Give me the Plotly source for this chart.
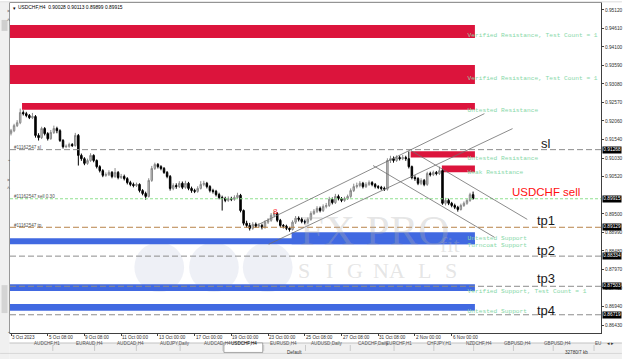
import plotly.graph_objects as go

# ---------------- data ----------------
BAR = list(range(152))
OPEN = [0.9172, 0.9179, 0.9193, 0.9201, 0.9229, 0.9226, 0.9221, 0.9215, 0.9218, 0.9166,
        0.9160, 0.9185, 0.9171, 0.9157, 0.9174, 0.9185, 0.9179, 0.9152, 0.9135, 0.9136,
        0.9141, 0.9138, 0.9166, 0.9111, 0.9102, 0.9089, 0.9097, 0.9111, 0.9097, 0.9080,
        0.9069, 0.9056, 0.9058, 0.9064, 0.9053, 0.9064, 0.9050, 0.9053, 0.9047, 0.9036,
        0.9031, 0.9028, 0.9031, 0.9014, 0.9006, 0.8998, 0.9042, 0.9075, 0.9086, 0.9080,
        0.9075, 0.9064, 0.9053, 0.9020, 0.9028, 0.9025, 0.9034, 0.9023, 0.9034, 0.9020,
        0.9014, 0.9012, 0.9020, 0.9031, 0.9034, 0.9025, 0.9014, 0.9012, 0.9003, 0.8995,
        0.8992, 0.8987, 0.8992, 0.8990, 0.8995, 0.9001, 0.8959, 0.8924, 0.8918, 0.8910,
        0.8921, 0.8916, 0.8918, 0.8913, 0.8927, 0.8932, 0.8946, 0.8951, 0.8932, 0.8918,
        0.8916, 0.8910, 0.8907, 0.8927, 0.8938, 0.8935, 0.8929, 0.8927, 0.8935, 0.8951,
        0.8957, 0.8965, 0.8959, 0.8970, 0.8973, 0.8990, 0.8981, 0.8998, 0.8992, 0.8987,
        0.8992, 0.8998, 0.9014, 0.9025, 0.9028, 0.9034, 0.9025, 0.9031, 0.9036, 0.9031,
        0.9025, 0.9023, 0.9020, 0.9018, 0.9097, 0.9102, 0.9097, 0.9105, 0.9102, 0.9105,
        0.9102, 0.9080, 0.9050, 0.9047, 0.9034, 0.9042, 0.9031, 0.9061, 0.9058, 0.9064,
        0.9061, 0.9069, 0.8979, 0.8987, 0.8979, 0.8973, 0.8968, 0.8962, 0.8973, 0.8979,
        0.8987, 0.90028]
HIGH = [0.9184, 0.9198, 0.9208, 0.9240, 0.9235, 0.9231, 0.9225, 0.9228, 0.9222, 0.9172,
        0.9190, 0.9189, 0.9175, 0.9181, 0.9193, 0.9190, 0.9183, 0.9156, 0.9141, 0.9146,
        0.9145, 0.9173, 0.9170, 0.9116, 0.9106, 0.9102, 0.9117, 0.9114, 0.9100, 0.9084,
        0.9073, 0.9064, 0.9070, 0.9068, 0.9076, 0.9068, 0.9060, 0.9058, 0.9051, 0.9041,
        0.9036, 0.9036, 0.9034, 0.9018, 0.9011, 0.9048, 0.9082, 0.9091, 0.9090, 0.9084,
        0.9079, 0.9068, 0.9057, 0.9034, 0.9034, 0.9040, 0.9039, 0.9041, 0.9038, 0.9025,
        0.9019, 0.9026, 0.9040, 0.9041, 0.9038, 0.9029, 0.9019, 0.9016, 0.9008, 0.9000,
        0.8997, 0.8998, 0.8997, 0.9001, 0.9008, 0.9005, 0.8962, 0.8931, 0.8925, 0.8927,
        0.8926, 0.8924, 0.8923, 0.8932, 0.8938, 0.8952, 0.8958, 0.8955, 0.8936, 0.8922,
        0.8920, 0.8914, 0.8932, 0.8944, 0.8943, 0.8940, 0.8934, 0.8940, 0.8957, 0.8963,
        0.8971, 0.8970, 0.8976, 0.8980, 0.8997, 0.8995, 0.9005, 0.9003, 0.8996, 0.8997,
        0.9003, 0.9020, 0.9033, 0.9036, 0.9040, 0.9038, 0.9037, 0.9042, 0.9040, 0.9035,
        0.9029, 0.9027, 0.9025, 0.9103, 0.9110, 0.9108, 0.9111, 0.9110, 0.9112, 0.9110,
        0.9122, 0.9083, 0.9056, 0.9051, 0.9048, 0.9046, 0.9066, 0.9066, 0.9069, 0.9068,
        0.9080, 0.9073, 0.8994, 0.8992, 0.8983, 0.8978, 0.8972, 0.8978, 0.8984, 0.8992,
        0.9008, 0.90113]
LOW = [0.9166, 0.9175, 0.9189, 0.9197, 0.9221, 0.9216, 0.9211, 0.9211, 0.9160, 0.9152,
       0.9156, 0.9166, 0.9152, 0.9154, 0.9170, 0.9172, 0.9148, 0.9130, 0.9131, 0.9132,
       0.9134, 0.9135, 0.9083, 0.9096, 0.9084, 0.9085, 0.9093, 0.9092, 0.9075, 0.9064,
       0.9051, 0.9052, 0.9054, 0.9048, 0.9049, 0.9045, 0.9046, 0.9042, 0.9031, 0.9026,
       0.9023, 0.9024, 0.9009, 0.9001, 0.8989, 0.8995, 0.9038, 0.9071, 0.9075, 0.9070,
       0.9060, 0.9048, 0.9014, 0.9015, 0.9019, 0.9021, 0.9018, 0.9019, 0.9015, 0.9008,
       0.9007, 0.9008, 0.9017, 0.9026, 0.9020, 0.9009, 0.9006, 0.8998, 0.8990, 0.8959,
       0.8982, 0.8983, 0.8985, 0.8986, 0.8991, 0.8954, 0.8918, 0.8912, 0.8904, 0.8906,
       0.8911, 0.8911, 0.8907, 0.8909, 0.8922, 0.8928, 0.8940, 0.8927, 0.8913, 0.8910,
       0.8905, 0.8901, 0.8904, 0.8922, 0.8929, 0.8924, 0.8921, 0.8922, 0.8931, 0.8947,
       0.8952, 0.8954, 0.8955, 0.8965, 0.8969, 0.8976, 0.8977, 0.8987, 0.8982, 0.8983,
       0.8988, 0.8994, 0.9010, 0.9020, 0.9023, 0.9020, 0.9021, 0.9027, 0.9026, 0.9020,
       0.9018, 0.9015, 0.9013, 0.9014, 0.9090, 0.9091, 0.9093, 0.9097, 0.9098, 0.9096,
       0.9075, 0.9045, 0.9041, 0.9029, 0.9029, 0.9026, 0.9027, 0.9053, 0.9054, 0.9056,
       0.9057, 0.8975, 0.8973, 0.8974, 0.8968, 0.8963, 0.8956, 0.8959, 0.8969, 0.8975,
       0.8983, 0.89899]
CLOSE = [0.9179, 0.9193, 0.9201, 0.9229, 0.9226, 0.9221, 0.9215, 0.9218, 0.9166, 0.9160,
         0.9185, 0.9171, 0.9157, 0.9174, 0.9185, 0.9179, 0.9152, 0.9135, 0.9136, 0.9141,
         0.9138, 0.9166, 0.9111, 0.9102, 0.9089, 0.9097, 0.9111, 0.9097, 0.9080, 0.9069,
         0.9056, 0.9058, 0.9064, 0.9053, 0.9064, 0.9050, 0.9053, 0.9047, 0.9036, 0.9031,
         0.9028, 0.9031, 0.9014, 0.9006, 0.8998, 0.9042, 0.9075, 0.9086, 0.9080, 0.9075,
         0.9064, 0.9053, 0.9020, 0.9028, 0.9025, 0.9034, 0.9023, 0.9034, 0.9020, 0.9014,
         0.9012, 0.9020, 0.9031, 0.9034, 0.9025, 0.9014, 0.9012, 0.9003, 0.8995, 0.8992,
         0.8987, 0.8992, 0.8990, 0.8995, 0.9001, 0.8959, 0.8924, 0.8918, 0.8910, 0.8921,
         0.8916, 0.8918, 0.8913, 0.8927, 0.8932, 0.8946, 0.8951, 0.8932, 0.8918, 0.8916,
         0.8910, 0.8907, 0.8927, 0.8938, 0.8935, 0.8929, 0.8927, 0.8935, 0.8951, 0.8957,
         0.8965, 0.8959, 0.8970, 0.8973, 0.8990, 0.8981, 0.8998, 0.8992, 0.8987, 0.8992,
         0.8998, 0.9014, 0.9025, 0.9028, 0.9034, 0.9025, 0.9031, 0.9036, 0.9031, 0.9025,
         0.9023, 0.9020, 0.9018, 0.9097, 0.9102, 0.9097, 0.9105, 0.9102, 0.9105, 0.9102,
         0.9080, 0.9050, 0.9047, 0.9034, 0.9042, 0.9031, 0.9061, 0.9058, 0.9064, 0.9061,
         0.9069, 0.8979, 0.8987, 0.8979, 0.8973, 0.8968, 0.8962, 0.8973, 0.8979, 0.8987,
         0.90028, 0.89915]

DATE_TICK_BARS = [0, 12, 24, 36, 48, 60, 72, 84, 96, 108, 120, 132, 144]
DATE_TICK_TEXT = ["3 Oct 2023", "5 Oct 08:00", "9 Oct 08:00", "11 Oct 00:00", "13 Oct 00:00",
                  "17 Oct 00:00", "19 Oct 00:00", "23 Oct 00:00", "25 Oct 08:00", "27 Oct 08:00",
                  "31 Oct 08:00", "2 Nov 00:00", "6 Nov 00:00"]
PRICE_TICKS = [0.95120, 0.94610, 0.94100, 0.93590, 0.93080, 0.92570, 0.92060, 0.91540, 0.91030,
               0.90520, 0.89500, 0.88990, 0.88480, 0.87970, 0.87460, 0.86940, 0.86430]
PRICE_MARKS = [0.91268, 0.89915, 0.89129, 0.88334, 0.87503, 0.86719]

RES_START = [-2.0, -2.0, 3.6, 130.6, 140.8]
RES_LOW = [0.94348, 0.93076, 0.92370, 0.91051, 0.90647]
RES_HIGH = [0.94705, 0.93598, 0.92554, 0.91224, 0.90831]
RES_LABEL = ["Verified Resistance, Test Count = 1", "Verified Resistance, Test Count = 1",
             "Untested Resistance", "Untested Resistance", "Weak Resistance"]
RES_LABEL_PRICE = [0.94422, 0.93230, 0.92351, 0.91024, 0.90631]

SUP_START = [91.7, -2.0, -2.0, -2.0]
SUP_LOW = [0.88661, 0.88661, 0.87370, 0.86828]
SUP_HIGH = [0.88991, 0.88826, 0.87562, 0.87013]
SUP_LABEL = ["Untested Support", "Turncoat Support", "Verified Support, Test Count = 1", "Untested Support"]
SUP_LABEL_PRICE = [0.88830, 0.88622, 0.87351, 0.86801]
ZONE_END = 151.6
ZONE_LABEL_BAR = 149.2

SL_PRICE = 0.91268
ENTRY_PRICE = 0.89915
TP_PRICE = 0.89129
TARGET_PRICES = [0.88334, 0.87503, 0.86719]
ORDER_TAGS = ["#11162547 sl", "#11162547 sell 0.30", "#11162547 tp"]

CHAN_X0 = [80.3, 84.2, 130.7, 118.3]
CHAN_Y0 = [0.89183, 0.88661, 0.91243, 0.90831]
CHAN_X1 = [154.7, 163.9, 168.7, 158.0]
CHAN_Y1 = [0.92260, 0.91848, 0.89347, 0.88853]

NOTE_TEXT = ["sl", "USDCHF sell", "tp1", "tp2", "tp3", "tp4"]
NOTE_BAR = [174.9, 174.9, 174.8, 174.8, 174.8, 174.8]
NOTE_PRICE = [0.91436, 0.90098, 0.89320, 0.88496, 0.87727, 0.86848]

MARK_BAR = 86.5
MARK_PRICE = 0.8956

HEADER = "USDCHF,H4  0.90028 0.90113 0.89899 0.89915"
TABS = ["AUDCHF,H1", "EURAUD,H4", "AUDCAD,H4", "AUDJPY,Daily", "AUDCAD,H4", "USDCHF,H4",
        "EURUSD,H4", "AUDUSD,Daily", "CADCHF,Daily", "EURCHF,H1", "CHFJPY,H1", "NZDCHF,H4",
        "GBPUSD,H4", "GBPUSD,H4", "EU"]

# ---------------- layout helpers (pixel -> paper, decoration only) ----------------
W, H = 625, 359
L, R, T, B = 10, 21, 2, 26
PW, PH = W - L - R, H - T - B


def fx(px):
    return (px - L) / PW


def fy(py):
    return (H - B - py) / PH


RED = "#dc143c"
BLUE = "#4169e1"
ZONE_TXT = "#88d8a8"

fig = go.Figure()
fig.add_trace(go.Candlestick(
    x=BAR, open=OPEN, high=HIGH, low=LOW, close=CLOSE,
    increasing=dict(line=dict(color="#8a8a8a", width=1), fillcolor="#c4c4c4"),
    decreasing=dict(line=dict(color="#000000", width=1), fillcolor="#000000"),
    whiskerwidth=0, showlegend=False, hoverinfo="skip"))

shapes = []
for x0, lo, hi in zip(RES_START, RES_LOW, RES_HIGH):
    shapes.append(dict(type="rect", xref="x", yref="y", x0=x0, x1=ZONE_END, y0=lo, y1=hi,
                       fillcolor=RED, line=dict(width=0), layer="below"))
for x0, lo, hi in zip(SUP_START, SUP_LOW, SUP_HIGH):
    shapes.append(dict(type="rect", xref="x", yref="y", x0=x0, x1=ZONE_END, y0=lo, y1=hi,
                       fillcolor=BLUE, line=dict(width=0), layer="below"))

# watermark
shapes.append(dict(type="rect", xref="paper", yref="paper", x0=fx(132), x1=fx(478), y0=fy(300), y1=fy(237),
                   fillcolor="rgba(255,255,255,0.28)", line=dict(width=0), layer="below"))
for cx in (160, 215, 269):
    shapes.append(dict(type="circle", xref="paper", yref="paper", x0=fx(cx - 25), x1=fx(cx + 25),
                       y0=fy(292), y1=fy(242), fillcolor="rgba(205,212,230,0.35)",
                       line=dict(width=0), layer="below"))

# order / target lines
shapes.append(dict(type="line", xref="paper", yref="y", x0=0, x1=1, y0=SL_PRICE, y1=SL_PRICE,
                   line=dict(color="#8c8c8c", width=1, dash="6px,3px")))
shapes.append(dict(type="line", xref="paper", yref="y", x0=0, x1=1, y0=ENTRY_PRICE, y1=ENTRY_PRICE,
                   line=dict(color="#8fe08f", width=1, dash="3px,2px")))
shapes.append(dict(type="line", xref="paper", yref="y", x0=0, x1=1, y0=TP_PRICE, y1=TP_PRICE,
                   line=dict(color="#b8844a", width=1, dash="6px,3px")))
for p in TARGET_PRICES:
    shapes.append(dict(type="line", xref="paper", yref="y", x0=0, x1=1, y0=p, y1=p,
                       line=dict(color="#8c8c8c", width=1, dash="6px,3px")))

# channel lines
for x0, y0, x1, y1 in zip(CHAN_X0, CHAN_Y0, CHAN_X1, CHAN_Y1):
    shapes.append(dict(type="line", xref="x", yref="y", x0=x0, y0=y0, x1=x1, y1=y1,
                       line=dict(color="#6e6e6e", width=0.8)))

# window chrome: left panel, top strip, tab bar, status bar
shapes.append(dict(type="rect", xref="paper", yref="paper", x0=fx(0), x1=fx(9.5), y0=fy(359), y1=fy(0),
                   fillcolor="#f0f0f0", line=dict(width=0)))
shapes.append(dict(type="rect", xref="paper", yref="paper", x0=fx(1.5), x1=fx(7.5), y0=fy(30), y1=fy(19),
                   fillcolor="#cfcfcf", line=dict(width=0)))
shapes.append(dict(type="rect", xref="paper", yref="paper", x0=fx(1.5), x1=fx(7.5), y0=fy(313), y1=fy(285),
                   fillcolor="#d4d4d4", line=dict(width=0)))
shapes.append(dict(type="rect", xref="paper", yref="paper", x0=fx(0), x1=fx(625), y0=fy(1.6), y1=fy(0),
                   fillcolor="#e8e8e8", line=dict(width=0)))
shapes.append(dict(type="rect", xref="paper", yref="paper", x0=fx(9.5), x1=fx(625), y0=fy(359), y1=fy(343),
                   fillcolor="#f0f0f0", line=dict(width=0)))
shapes.append(dict(type="line", xref="paper", yref="paper", x0=fx(9.5), x1=fx(625), y0=fy(343), y1=fy(343),
                   line=dict(color="#a0a0a0", width=0.6)))
shapes.append(dict(type="rect", xref="paper", yref="paper", x0=fx(225), x1=fx(264), y0=fy(352.5), y1=fy(343),
                   fillcolor="#ffffff", line=dict(color="#707070", width=0.6)))
for sx in (53, 95, 137, 181, 224, 265, 307, 352, 396, 436, 476, 516, 556, 597):
    shapes.append(dict(type="line", xref="paper", yref="paper", x0=fx(sx), x1=fx(sx), y0=fy(351), y1=fy(345),
                       line=dict(color="#b0b0b0", width=0.6)))
shapes.append(dict(type="line", xref="paper", yref="paper", x0=fx(0), x1=fx(625), y0=fy(353.5), y1=fy(353.5),
                   line=dict(color="#c8c8c8", width=0.6)))

fig.add_trace(go.Scatter(
    x=[ZONE_LABEL_BAR] * (len(RES_LABEL) + len(SUP_LABEL)),
    y=RES_LABEL_PRICE + SUP_LABEL_PRICE, text=RES_LABEL + SUP_LABEL,
    mode="text", textposition="middle right", cliponaxis=True,
    textfont=dict(family="Liberation Mono", size=6.2, color=ZONE_TXT),
    showlegend=False, hoverinfo="skip"))

ann = []
# header
ann.append(dict(xref="paper", yref="paper", x=fx(11), y=fy(7), xanchor="left", yanchor="middle",
                text="▾", showarrow=False, font=dict(size=5, color="#000")))
ann.append(dict(xref="paper", yref="paper", x=fx(16.5), y=fy(7), xanchor="left", yanchor="middle",
                text=HEADER, showarrow=False, font=dict(family="Liberation Sans", size=4.9, color="#000")))
# order tags
for tag, p in zip(ORDER_TAGS, [SL_PRICE, ENTRY_PRICE, TP_PRICE]):
    ann.append(dict(xref="paper", yref="y", x=fx(13), y=p, xanchor="left", yanchor="bottom", yshift=-1.5,
                    text=tag, showarrow=False, borderpad=0,
                    font=dict(family="Liberation Sans", size=4.6, color="#505050")))
# big notes
for t, xb, p in zip(NOTE_TEXT, NOTE_BAR, NOTE_PRICE):
    col = "#ff1010" if "sell" in t else "#1a1a1a"
    sz = 11.5 if "sell" in t else 13
    ann.append(dict(xref="x", yref="y", x=xb, y=p, xanchor="center", yanchor="middle", text=t,
                    showarrow=False, font=dict(family="Liberation Sans", size=sz, color=col)))
# order arrow marker
ann.append(dict(xref="x", yref="y", x=MARK_BAR, y=MARK_PRICE, text="8", showarrow=False,
                font=dict(family="Liberation Sans", size=8, color="#ff3030")))
# price marks on axis
for p in PRICE_MARKS:
    ann.append(dict(xref="paper", yref="y", x=1, xshift=1, y=p, xanchor="left", yanchor="middle",
                    text="%.5f" % p, showarrow=False, bgcolor="#000000", borderpad=0.3,
                    font=dict(family="Liberation Sans", size=4.8, color="#ffffff")))
# date labels
for b, t in zip(DATE_TICK_BARS, DATE_TICK_TEXT):
    ann.append(dict(xref="x", yref="paper", x=b, y=fy(338), xanchor="left", yanchor="middle", xshift=-1,
                    text=t, showarrow=False, font=dict(family="Liberation Sans", size=4.6, color="#303030")))
# watermark text
ann.append(dict(xref="paper", yref="paper", x=fx(376), y=fy(256), text="FX PRO", showarrow=False,
                font=dict(family="Liberation Serif", size=43, color="rgba(175,175,175,0.33)")))
ann.append(dict(xref="paper", yref="paper", x=fx(464), y=fy(259), text="fit", showarrow=False,
                font=dict(family="Liberation Serif", size=22, color="rgba(175,175,175,0.33)")))
for cx, ch in zip((305, 331, 357, 383, 409, 435, 461), "SIGNALS"):
    ann.append(dict(xref="paper", yref="paper", x=fx(cx), y=fy(285), text=ch, showarrow=False,
                    font=dict(family="Liberation Serif", size=22, color="rgba(190,190,190,0.4)")))
# tabs
for cx, t in zip((32, 74, 116, 159, 203, 245, 285, 329, 375, 416, 456, 496, 536, 576, 606), TABS):
    ann.append(dict(xref="paper", yref="paper", x=fx(cx), y=fy(348), text=t, showarrow=False,
                    font=dict(family="Liberation Sans", size=4.6, color="#000" if t == "USDCHF,H4" else "#555")))
ann.append(dict(xref="paper", yref="paper", x=fx(619), y=fy(348), text="◂ ▸", showarrow=False,
                font=dict(size=4.5, color="#333")))
ann.append(dict(xref="paper", yref="paper", x=fx(286), y=fy(357), xanchor="left", text="Default",
                showarrow=False, font=dict(family="Liberation Sans", size=4.6, color="#333")))
ann.append(dict(xref="paper", yref="paper", x=fx(566), y=fy(357), xanchor="left", text="32780/7 kb",
                showarrow=False, font=dict(family="Liberation Sans", size=4.6, color="#333")))
# left panel glyphs
for py, g in ((5, "×"), (14, "^"), (158, "⌄"), (180, "×"), (188, "^"), (336, "⌄")):
    ann.append(dict(xref="paper", yref="paper", x=fx(4.5), y=fy(py), text=g, showarrow=False,
                    font=dict(size=5, color="#444")))

fig.update_layout(
    width=W, height=H, margin=dict(l=L, r=R, t=T, b=B),
    paper_bgcolor="#ffffff", plot_bgcolor="#ffffff",
    shapes=shapes, annotations=ann, showlegend=False,
    xaxis=dict(range=[-0.33, 192.8], tickvals=DATE_TICK_BARS, showticklabels=False,
               ticks="outside", ticklen=2, tickcolor="#404040", showgrid=False, zeroline=False,
               showline=True, mirror=True, linecolor="#404040", linewidth=1,
               rangeslider=dict(visible=False), fixedrange=True),
    yaxis=dict(range=[0.86216, 0.95309], side="right", tickvals=PRICE_TICKS,
               ticktext=["%.5f" % v for v in PRICE_TICKS], ticks="outside", ticklen=2,
               tickcolor="#404040", tickfont=dict(family="Liberation Sans", size=4.8, color="#303030"),
               showgrid=False, zeroline=False, showline=True, mirror=True, linecolor="#404040",
               linewidth=1, fixedrange=True),
)

fig.write_html("out.html")
